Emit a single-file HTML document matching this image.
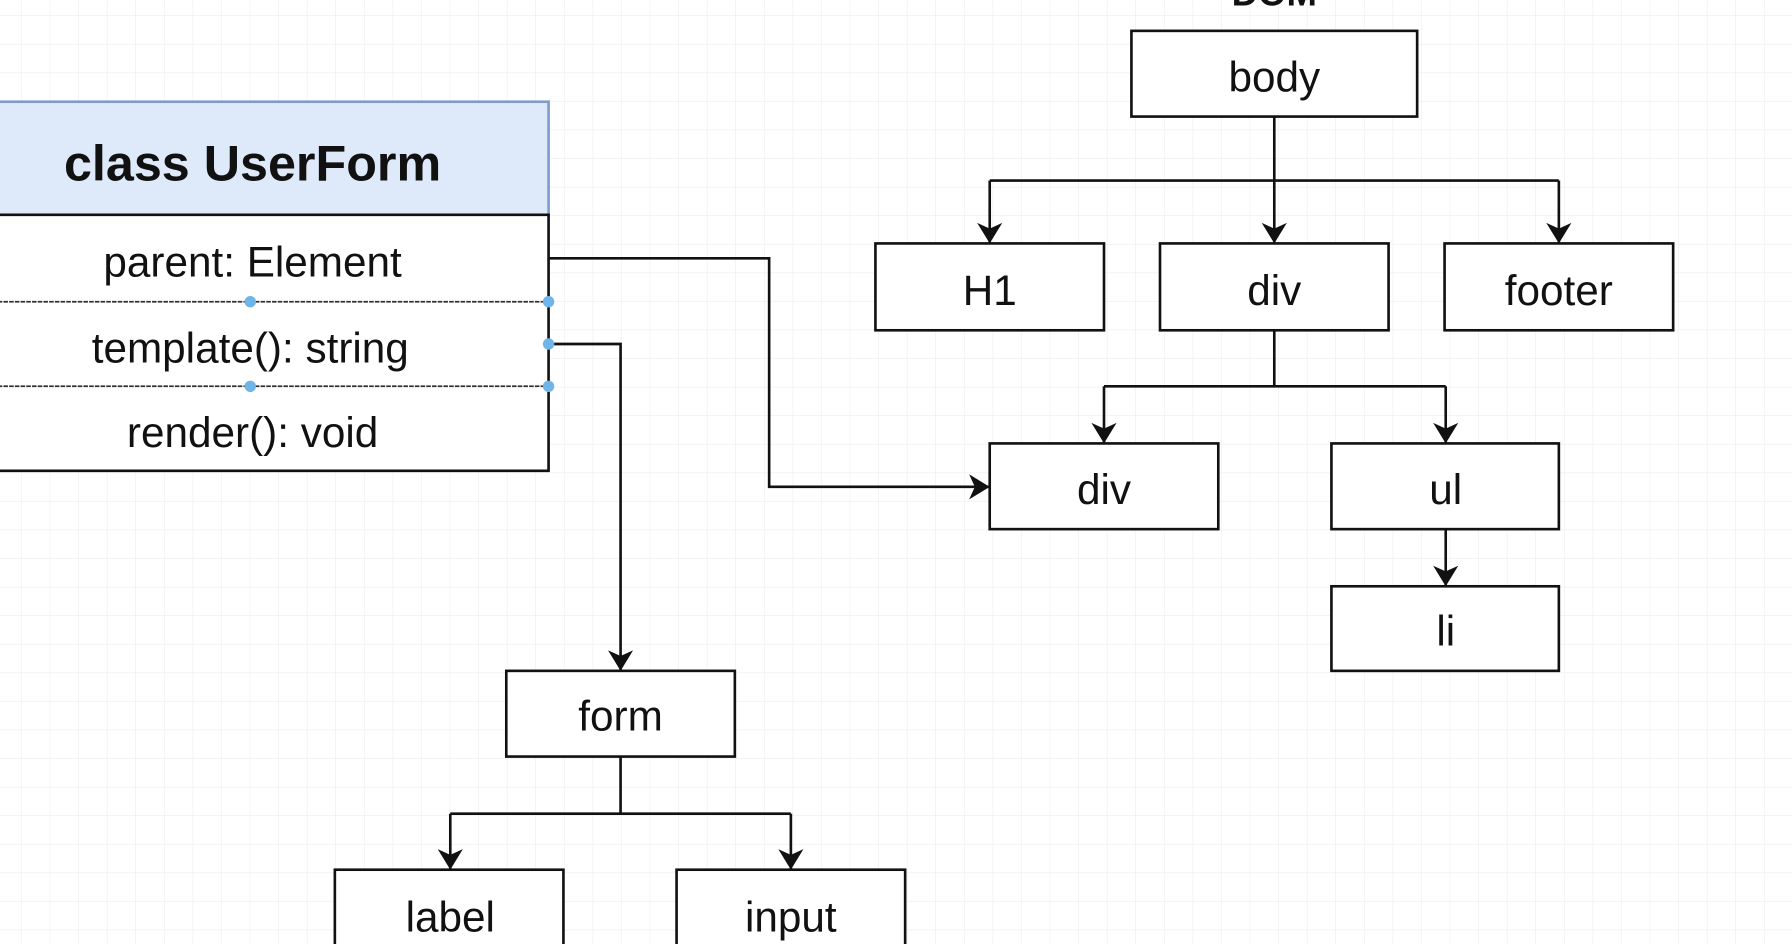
<!DOCTYPE html>
<html><head><meta charset="utf-8"><style>
html,body{margin:0;padding:0;background:#fff;overflow:hidden}
svg{display:block}
text{font-family:"Liberation Sans",sans-serif;fill:#111}
</style></head><body>
<svg width="1792" height="944" viewBox="0 0 1568 826" xmlns="http://www.w3.org/2000/svg">
<defs>
<pattern id="g" width="25" height="25" patternUnits="userSpaceOnUse" x="-6" y="-11">
<path d="M25 0V25M0 25H25" fill="none" stroke="#ececec" stroke-width="1"/>
</pattern>
<marker id="b" markerWidth="18" markerHeight="22" refX="17" refY="11" orient="auto" markerUnits="userSpaceOnUse" viewBox="0 0 18 22">
<path d="M0,0 L18,11 L0,22 L5,11 Z" fill="#111"/>
</marker>
</defs>
<rect width="1568" height="826" fill="url(#g)"/>

<text x="1115" y="5" text-anchor="middle" font-size="32" font-weight="bold">DOM</text>

<g fill="none" stroke="#111" stroke-width="2.3">
<rect x="-2" y="89" width="482" height="99" fill="#dee9f9" stroke="#7f9cc8"/>
<path d="M-2 188H480V412H-2" fill="#fff"/>
<path d="M-2 264H480M-2 338H480" stroke="#333" stroke-dasharray="4 1" stroke-width="1.5"/>
<rect x="990" y="27" width="250" height="75" fill="#fff"/>
<rect x="766" y="213" width="200" height="76" fill="#fff"/>
<rect x="1015" y="213" width="200" height="76" fill="#fff"/>
<rect x="1264" y="213" width="200" height="76" fill="#fff"/>
<rect x="866" y="388" width="200" height="75" fill="#fff"/>
<rect x="1165" y="388" width="199" height="75" fill="#fff"/>
<rect x="1165" y="513" width="199" height="74" fill="#fff"/>
<rect x="443" y="587" width="200" height="75" fill="#fff"/>
<rect x="293" y="761" width="200" height="75" fill="#fff"/>
<rect x="592" y="761" width="200" height="75" fill="#fff"/>
<path d="M1115 102V158M866 158H1364"/>
<path d="M866 158V212" marker-end="url(#b)"/>
<path d="M1115 158V212" marker-end="url(#b)"/>
<path d="M1364 158V212" marker-end="url(#b)"/>
<path d="M1115 289V338M966 338H1265"/>
<path d="M966 338V387" marker-end="url(#b)"/>
<path d="M1265 338V387" marker-end="url(#b)"/>
<path d="M1265 463V512" marker-end="url(#b)"/>
<path d="M480 226H673V426H865" marker-end="url(#b)"/>
<path d="M480 301H543V586" marker-end="url(#b)"/>
<path d="M543 662V712M394 712H692"/>
<path d="M394 712V760" marker-end="url(#b)"/>
<path d="M692 712V760" marker-end="url(#b)"/>
</g>
<g fill="#6fb5e8">
<circle cx="219" cy="264" r="5"/><circle cx="480" cy="264" r="5"/>
<circle cx="480" cy="301" r="5"/>
<circle cx="219" cy="338" r="5"/><circle cx="480" cy="338" r="5"/>
</g>

<text x="221" y="158" text-anchor="middle" font-size="44" font-weight="bold">class UserForm</text>
<g font-size="37" text-anchor="middle">
<text x="221" y="242">parent: Element</text>
<text x="219" y="317">template(): string</text>
<text x="221" y="391">render(): void</text>
<text x="1115" y="80">body</text>
<text x="866" y="267">H1</text>
<text x="1115" y="267">div</text>
<text x="1364" y="267">footer</text>
<text x="966" y="441">div</text>
<text x="1265" y="441">ul</text>
<text x="1265" y="565">li</text>
<text x="543" y="639">form</text>
<text x="394" y="815">label</text>
<text x="692" y="815">input</text>
</g>
</svg>
</body></html>
